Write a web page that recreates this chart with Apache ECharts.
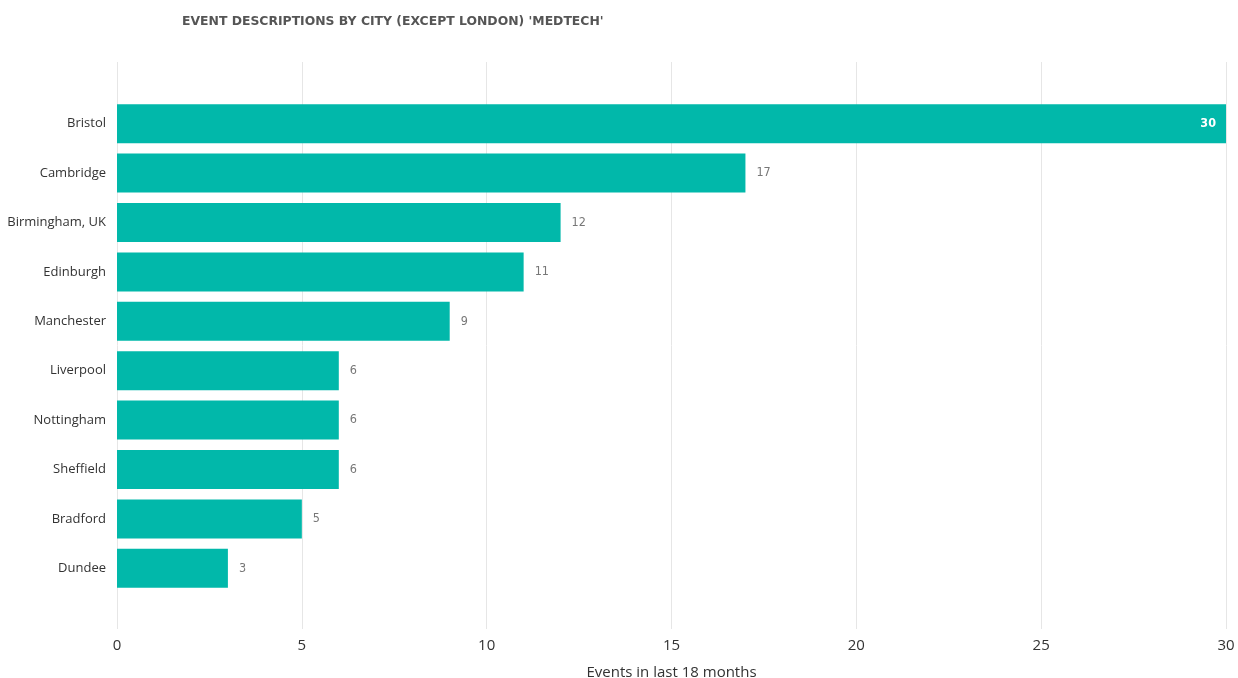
<!DOCTYPE html>
<html>
<head>
<meta charset="utf-8">
<script src="https://cdn.jsdelivr.net/npm/echarts@6/dist/echarts.min.js"></script>
<style>
html,body{margin:0;padding:0;background:#fff;}
#c{width:1238px;height:678px;}
</style>
</head>
<body>
<div id="c"></div>
<script>
const titleText = "EVENT DESCRIPTIONS BY CITY (EXCEPT LONDON) 'MEDTECH'";
const cities = ["Bristol","Cambridge","Birmingham, UK","Edinburgh","Manchester","Liverpool","Nottingham","Sheffield","Bradford","Dundee"];
const events = [30,17,12,11,9,6,6,6,5,3];
const xTicks = [0,5,10,15,20,25,30];
const xName = "Events in last 18 months";

const chart = echarts.init(document.getElementById('c'), null, {renderer:'canvas'});
const font = "'Open Sans', 'Noto Sans', sans-serif";
const maxVal = Math.max(...events);
chart.setOption({
  animation:false,
  textStyle:{fontFamily:font},
  title:{
    text:titleText,
    left:177, top:11,
    textStyle:{fontFamily:"'DejaVu Sans',sans-serif",fontWeight:'bold',fontSize:12.4,color:'#555'}
  },
  grid:[
    {left:117,right:12,top:62,bottom:49,containLabel:false,outerBoundsMode:'none'},
    {left:117,right:12,top:99,bottom:85,containLabel:false,outerBoundsMode:'none'}
  ],
  xAxis:[
    {gridIndex:0,type:'value',min:xTicks[0],max:xTicks[xTicks.length-1],interval:5,
     axisLine:{show:false},axisTick:{show:false},
     splitLine:{show:true,lineStyle:{color:'#e6e6e6',width:1}},
     axisLabel:{color:'#333',fontSize:15,margin:9,fontFamily:font},
     name:xName,nameLocation:'middle',nameGap:36,
     nameTextStyle:{color:'#333',fontSize:15,fontFamily:font}},
    {gridIndex:1,type:'value',min:xTicks[0],max:xTicks[xTicks.length-1],show:false}
  ],
  yAxis:[
    {gridIndex:0,type:'value',show:false},
    {gridIndex:1,type:'category',data:cities,inverse:true,
     axisLine:{show:false},axisTick:{show:false},
     axisLabel:{color:'#333',fontSize:13,margin:11,fontFamily:font}}
  ],
  series:[{
    type:'bar',xAxisIndex:1,yAxisIndex:1,
    data:events.map(v=>({value:v,label: v===maxVal?{position:'insideRight',color:'#fff',fontWeight:'bold',distance:10}:{}})),
    barWidth:39,
    itemStyle:{color:'#01B8AA'},
    label:{show:true,position:'right',distance:11,color:'#777',fontSize:12.5,fontFamily:"'DejaVu Sans Condensed','DejaVu Sans',sans-serif"}
  }]
});
</script>
</body>
</html>
